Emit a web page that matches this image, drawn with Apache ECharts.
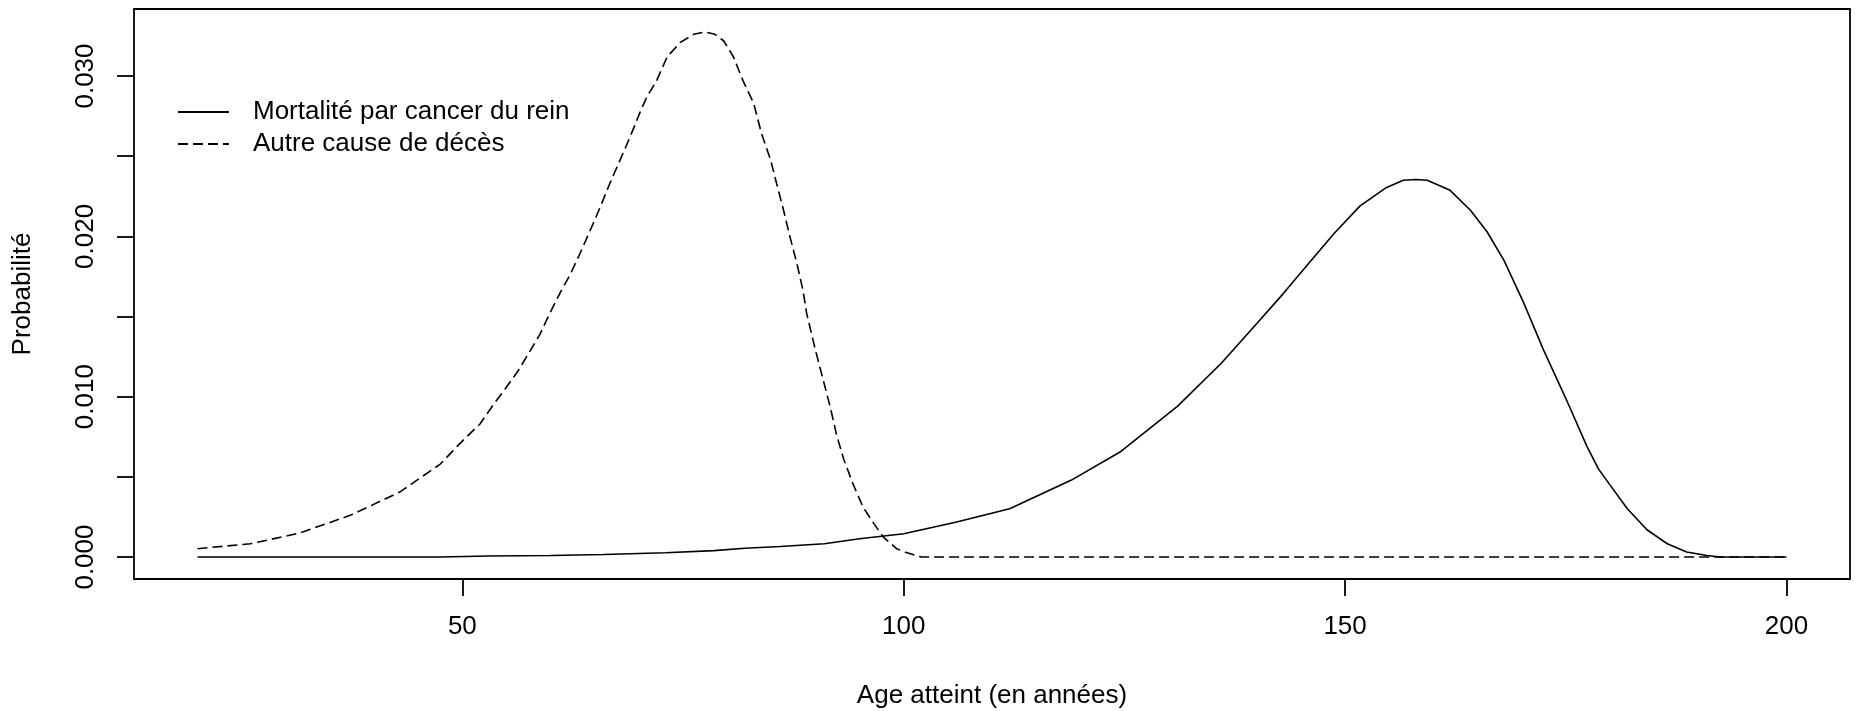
<!DOCTYPE html>
<html>
<head>
<meta charset="utf-8">
<script src="https://cdn.jsdelivr.net/npm/echarts@6/dist/echarts.min.js"></script>
<style>
html,body{margin:0;padding:0;background:#fff;}
#chart{width:1857px;height:711px;}
</style>
</head>
<body>
<div id="chart"></div>
<script>
// Data
const cancerName = 'Mortalité par cancer du rein';
const otherName = 'Autre cause de décès';

const cancerAges = [20, 47.5, 53, 60, 66, 73, 78.5, 82, 86, 91, 95, 100, 106, 112, 119, 124.5, 131, 136, 140, 143, 145.7, 148.7, 151.7, 154.7, 156.6, 158, 159.3, 161.9, 164.2, 166.1, 168, 170.2, 172.5, 175, 177.4, 178.7, 180, 182, 184.2, 186.5, 188.7, 191, 192.5, 200];
const cancerVals = [0, 0, 0.00006, 0.0001, 0.00016, 0.00027, 0.0004, 0.00055, 0.00066, 0.00083, 0.00114, 0.00145, 0.00218, 0.00301, 0.0048, 0.00655, 0.0094, 0.0121, 0.01456, 0.01643, 0.0182, 0.02015, 0.0219, 0.02305, 0.0235, 0.02355, 0.0235, 0.02287, 0.02163, 0.02027, 0.0185, 0.0159, 0.01289, 0.0099, 0.0069, 0.0055, 0.0045, 0.003, 0.0017, 0.00083, 0.00031, 0.0001, 0, 0];

const otherAges = [20, 26, 31.6, 37.3, 42.9, 47.5, 49.4, 50.5, 52, 53.5, 55, 56.3, 57.5, 58.8, 59.9, 61.1, 62.2, 63.3, 64.5, 65.6, 66.7, 67.9, 69, 70.1, 70.9, 72, 73.2, 74.7, 76.2, 77.5, 78.6, 79.6, 80.7, 81.8, 83, 83.9, 84.9, 85.6, 86.4, 87.1, 87.9, 88.6, 89, 90, 90.9, 91.7, 92.4, 93.2, 94.3, 95.4, 96.6, 97.7, 99.2, 100.2, 102, 200];
const otherVals = [0.00052, 0.00083, 0.0015, 0.0026, 0.00405, 0.0058, 0.0069, 0.0075, 0.0083, 0.0095, 0.0106, 0.0116, 0.0127, 0.0139, 0.0152, 0.0165, 0.0176, 0.0189, 0.0204, 0.0218, 0.0233, 0.0248, 0.0262, 0.0277, 0.0287, 0.0297, 0.0312, 0.0321, 0.0326, 0.03275, 0.0326, 0.0322, 0.0312, 0.0297, 0.0283, 0.0264, 0.0248, 0.0233, 0.0216, 0.02, 0.0183, 0.0166, 0.0152, 0.0129, 0.011, 0.0093, 0.0076, 0.0061, 0.0045, 0.0031, 0.0021, 0.00124, 0.00052, 0.0003, 0, 0];

const xTicks = [50, 100, 150, 200];
const yTicks = [0, 0.005, 0.01, 0.015, 0.02, 0.025, 0.03];
const yLabelTicks = [0, 0.01, 0.02, 0.03];

const FONT = '"Liberation Sans", Arial, sans-serif';
const FS = 26;

function pairs(xs, ys) { return xs.map((x, i) => [x, ys[i]]); }

const chart = echarts.init(document.getElementById('chart'), null, {renderer: 'canvas'});
chart.setOption({
  animation: false,
  backgroundColor: '#fff',
  grid: {
    left: 134, right: 7, top: 9, bottom: 132,
    containLabel: false, outerBoundsMode: 'none',
    show: true, borderColor: '#000', borderWidth: 1.8, backgroundColor: 'transparent'
  },
  legend: {
    data: [cancerName, otherName],
    orient: 'vertical',
    left: 177, top: 99, padding: 0,
    itemWidth: 51, itemHeight: 14, itemGap: 6,
    itemStyle: {opacity: 0},
    textStyle: {fontFamily: FONT, fontSize: FS, color: '#000', lineHeight: 26, padding: [0, 0, 0, 19]},
    selectedMode: false
  },
  xAxis: {
    type: 'value', min: 12.8, max: 207.2,
    name: 'Age atteint (en années)', nameLocation: 'middle', nameGap: 104,
    nameTextStyle: {fontFamily: FONT, fontSize: FS, color: '#000'},
    axisLine: {show: false, onZero: false},
    axisTick: {show: true, length: 17, customValues: xTicks, lineStyle: {color: '#000', width: 1.8}},
    axisLabel: {customValues: xTicks, margin: 35, fontFamily: FONT, fontSize: FS, color: '#000'},
    splitLine: {show: false}
  },
  yAxis: {
    type: 'value', min: -0.00137, max: 0.03418,
    name: 'Probabilité', nameLocation: 'middle', nameGap: 98,
    nameTextStyle: {fontFamily: FONT, fontSize: FS, color: '#000'},
    axisLine: {show: false, onZero: false},
    axisTick: {show: true, length: 17, customValues: yTicks, lineStyle: {color: '#000', width: 1.8}},
    axisLabel: {customValues: yLabelTicks, rotate: 90, margin: 35, fontFamily: FONT, fontSize: FS, color: '#000',
      formatter: v => v.toFixed(3)},
    splitLine: {show: false}
  },
  series: [
    {
      name: otherName, type: 'line', data: pairs(otherAges, otherVals),
      symbol: 'none', smooth: false,
      lineStyle: {color: '#000', width: 1.6, type: [10, 5]},
      itemStyle: {color: '#000'}
    },
    {
      name: cancerName, type: 'line', data: pairs(cancerAges, cancerVals),
      symbol: 'none', smooth: false,
      lineStyle: {color: '#000', width: 1.6, type: 'solid'},
      itemStyle: {color: '#000'}
    }
  ]
});
</script>
</body>
</html>
